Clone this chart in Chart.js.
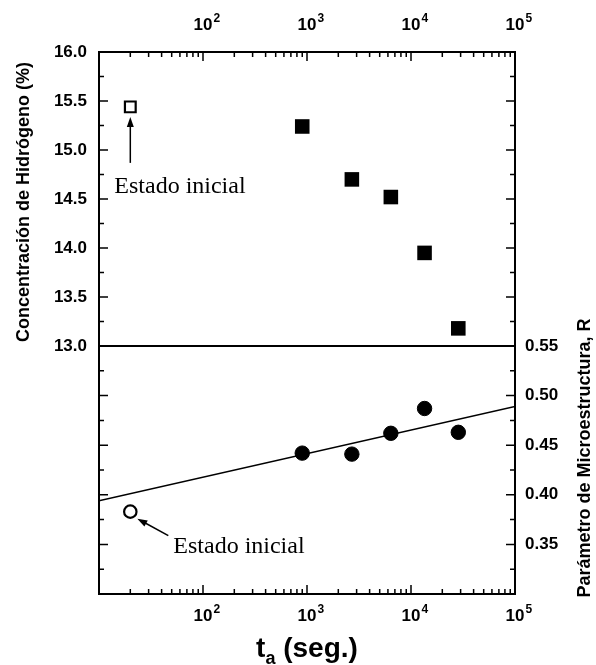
<!DOCTYPE html>
<html>
<head>
<meta charset="utf-8">
<script src="https://cdn.jsdelivr.net/npm/chart.js@4.4.1/dist/chart.umd.min.js"></script>
<style>
    html, body { margin: 0; padding: 0; background: #fff; }
    #wrap { width: 596px; height: 665px; }
</style>
</head>
<body>
<div id="wrap"><canvas id="chart" width="596" height="665"></canvas></div>
<script>
// DATA -----------------------------------------------------------------------

// annealing times t_a (seg.) shared by both panels
const annealTimes = [900, 2700, 6400, 13500, 28500];
const hydrogen = [15.24, 14.70, 14.52, 13.95, 13.18];   // %
const microR = [0.442, 0.441, 0.462, 0.487, 0.463];

// as-deposited sample ("Estado inicial")
const initialTime = [20];
const initialHydrogen = [15.44];
const initialR = [0.383];

// linear fit of R vs log(t_a)
const fitTimes = [10, 100000];
const fitR = [0.394, 0.489];

// tick labels
const xTickLabels = [100, 1000, 10000, 100000];
const hydrogenLabels = [16.0, 15.5, 15.0, 14.5, 14.0, 13.5, 13.0];
const rLabels = [0.55, 0.50, 0.45, 0.40, 0.35];

// SETTINGS -------------------------------------------------------------------

const SANS = '"Liberation Sans", Arial, sans-serif';
const SERIF = '"Liberation Serif", "Times New Roman", serif';
const BLACK = '#000';

const near = (a, b) => Math.abs(a - b) < 1e-6;
const inList = (list, v) => list.some(l => near(l, v));

// keep only 1..9 x 10^n ticks of the log axis
function cleanLogTicks(scale) {
    scale.ticks = scale.ticks.filter(t => {
        const s = t.value / Math.pow(10, Math.floor(Math.log10(t.value) + 1e-9));
        return near(s, Math.round(s));
    });
}

function logAxis(position, size) {
    return {
        type: 'logarithmic',
        position: position,
        min: 10,
        max: 100000,
        grid: {display: false, drawTicks: false},
        border: {display: true, color: BLACK, width: 2},
        ticks: {display: false, autoSkip: false},
        afterBuildTicks: cleanLogTicks,
        afterFit: s => { s.height = size }
    }
}

function linAxis(position, stack, weight, stackWeight, min, max, step, labels, digits, pad) {
    return {
        type: 'linear',
        position: position,
        stack: stack,
        weight: weight,
        stackWeight: stackWeight,
        min: min,
        max: max,
        grid: {display: false, drawTicks: false},
        border: {display: true, color: BLACK, width: 2},
        ticks: {
            display: labels !== null,
            stepSize: step,
            autoSkip: false,
            padding: pad,
            color: BLACK,
            font: {family: SANS, size: 17, weight: 'bold'},
            callback: v => (labels && inList(labels, v)) ? v.toFixed(digits) : ''
        },
        afterFit: s => { s.width = position === 'left' ? 99 : 81 }
    }
}

// DRAWING HELPERS ------------------------------------------------------------

function inwardTicks(ctx, scale, side, isMajor) {
    ctx.lineWidth = 1.5;
    ctx.beginPath();
    scale.ticks.forEach(t => {
        const p = scale.getPixelForValue(t.value);
        const len = isMajor(t.value) ? 9 : 5;
        if (side === 'bottom') { ctx.moveTo(p, scale.top); ctx.lineTo(p, scale.top - len) }
        if (side === 'top') { ctx.moveTo(p, scale.bottom); ctx.lineTo(p, scale.bottom + len) }
        if (side === 'left') { ctx.moveTo(scale.right, p); ctx.lineTo(scale.right + len, p) }
        if (side === 'right') { ctx.moveTo(scale.left, p); ctx.lineTo(scale.left - len, p) }
    });
    ctx.stroke();
}

function powerLabels(ctx, scale, baseline) {
    xTickLabels.forEach(v => {
        const p = scale.getPixelForValue(v);
        ctx.font = `bold 17px ${SANS}`;
        ctx.textAlign = 'center';
        ctx.textBaseline = 'alphabetic';
        ctx.fillText('10', p, baseline);
        const w = ctx.measureText('10').width;
        ctx.font = `bold 12px ${SANS}`;
        ctx.textAlign = 'left';
        ctx.fillText(String(Math.round(Math.log10(v))), p + w / 2 + 1, baseline - 8);
    });
}

function arrow(ctx, x1, y1, x2, y2) {
    const a = Math.atan2(y2 - y1, x2 - x1);
    const head = 10, half = 3.5;
    ctx.lineWidth = 1.5;
    ctx.beginPath();
    ctx.moveTo(x1, y1);
    ctx.lineTo(x2 - Math.cos(a) * head * 0.8, y2 - Math.sin(a) * head * 0.8);
    ctx.stroke();
    ctx.beginPath();
    ctx.moveTo(x2, y2);
    ctx.lineTo(x2 - Math.cos(a) * head - Math.sin(a) * half, y2 - Math.sin(a) * head + Math.cos(a) * half);
    ctx.lineTo(x2 - Math.cos(a) * head + Math.sin(a) * half, y2 - Math.sin(a) * head - Math.cos(a) * half);
    ctx.closePath();
    ctx.fill();
}

function rotatedTitle(ctx, text, x, y) {
    ctx.save();
    ctx.translate(x, y);
    ctx.rotate(-Math.PI / 2);
    ctx.font = `bold 18px ${SANS}`;
    ctx.textAlign = 'center';
    ctx.textBaseline = 'alphabetic';
    ctx.fillText(text, 0, 0);
    ctx.restore();
}

const decorations = {
    id: 'decorations',
    afterDraw(chart) {
        const {ctx, scales: s} = chart;
        ctx.save();
        ctx.strokeStyle = BLACK;
        ctx.fillStyle = BLACK;

        const decade = v => near(Math.log10(v), Math.round(Math.log10(v)));
        const halfUnit = v => near(v * 2, Math.round(v * 2));
        const twentieth = v => near(v * 20, Math.round(v * 20));
        inwardTicks(ctx, s.x, 'bottom', decade);
        inwardTicks(ctx, s.xTop, 'top', decade);
        inwardTicks(ctx, s.yH, 'left', halfUnit);
        inwardTicks(ctx, s.yHRight, 'right', halfUnit);
        inwardTicks(ctx, s.yRLeft, 'left', twentieth);
        inwardTicks(ctx, s.yR, 'right', twentieth);

        // panel separator
        ctx.lineWidth = 2;
        ctx.beginPath();
        ctx.moveTo(chart.chartArea.left, s.yH.bottom);
        ctx.lineTo(chart.chartArea.right, s.yH.bottom);
        ctx.stroke();

        powerLabels(ctx, s.xTop, 30);
        powerLabels(ctx, s.x, 621);

        // x title: t_a (seg.)
        ctx.textAlign = 'left';
        ctx.textBaseline = 'alphabetic';
        ctx.font = `bold 28px ${SANS}`;
        const wt = ctx.measureText('t').width;
        const wr = ctx.measureText(' (seg.)').width;
        ctx.font = `bold 18px ${SANS}`;
        const wa = ctx.measureText('a').width;
        const cx = (chart.chartArea.left + chart.chartArea.right) / 2;
        let tx = cx - (wt + wa + wr) / 2;
        ctx.font = `bold 28px ${SANS}`;
        ctx.fillText('t', tx, 657);
        ctx.font = `bold 18px ${SANS}`;
        ctx.fillText('a', tx + wt, 664);
        ctx.font = `bold 28px ${SANS}`;
        ctx.fillText(' (seg.)', tx + wt + wa, 657);

        rotatedTitle(ctx, 'Concentración de Hidrógeno (%)', 29, 202);
        rotatedTitle(ctx, 'Parámetro de Microestructura, R', 590, 458);

        // "Estado inicial" notes
        ctx.font = `24px ${SERIF}`;
        ctx.textAlign = 'left';
        const sx = s.x.getPixelForValue(initialTime[0]);
        const sy = s.yH.getPixelForValue(initialHydrogen[0]);
        arrow(ctx, sx, sy + 56, sx, sy + 10);
        ctx.fillText('Estado inicial', sx - 16, sy + 86);

        const cy = s.yR.getPixelForValue(initialR[0]);
        arrow(ctx, sx + 38, cy + 24, sx + 7, cy + 7);
        ctx.fillText('Estado inicial', sx + 43, cy + 41);

        ctx.restore();
    }
};

// CHART ----------------------------------------------------------------------

const toPoints = (xs, ys) => xs.map((x, i) => ({x: x, y: ys[i]}));

new Chart(document.getElementById('chart'), {
    type: 'scatter',
    data: {
        datasets: [
            {
                label: 'H anneal',
                data: toPoints(annealTimes, hydrogen),
                yAxisID: 'yH',
                pointStyle: 'rect',
                pointRadius: 10.3,
                backgroundColor: BLACK,
                borderColor: BLACK,
                borderWidth: 0
            },
            {
                label: 'H inicial',
                data: toPoints(initialTime, initialHydrogen),
                yAxisID: 'yH',
                pointStyle: 'rect',
                pointRadius: 7.6,
                backgroundColor: '#fff',
                borderColor: BLACK,
                borderWidth: 2.2
            },
            {
                label: 'R anneal',
                data: toPoints(annealTimes, microR),
                yAxisID: 'yR',
                pointStyle: 'circle',
                pointRadius: 7.2,
                backgroundColor: BLACK,
                borderColor: BLACK,
                borderWidth: 1
            },
            {
                label: 'R inicial',
                data: toPoints(initialTime, initialR),
                yAxisID: 'yR',
                pointStyle: 'circle',
                pointRadius: 6.2,
                backgroundColor: '#fff',
                borderColor: BLACK,
                borderWidth: 2.2
            },
            {
                label: 'ajuste',
                data: toPoints(fitTimes, fitR),
                yAxisID: 'yR',
                showLine: true,
                pointRadius: 0,
                borderColor: BLACK,
                borderWidth: 1.5
            }
        ]
    },
    options: {
        responsive: false,
        animation: false,
        layout: {padding: 0},
        plugins: {
            legend: {display: false},
            tooltip: {enabled: false}
        },
        scales: {
            x: logAxis('bottom', 71),
            xTop: logAxis('top', 52),
            yH: linAxis('left', 'left', 1, 294, 13, 16, 0.25, hydrogenLabels, 1, 12),
            yRLeft: linAxis('left', 'left', 0, 248, 0.30, 0.55, 0.025, null, 2, 10),
            yHRight: linAxis('right', 'right', 0, 294, 13, 16, 0.25, null, 1, 10),
            yR: linAxis('right', 'right', 1, 248, 0.30, 0.55, 0.025, rLabels, 2, 10)
        }
    },
    plugins: [decorations]
});
</script>
</body>
</html>
